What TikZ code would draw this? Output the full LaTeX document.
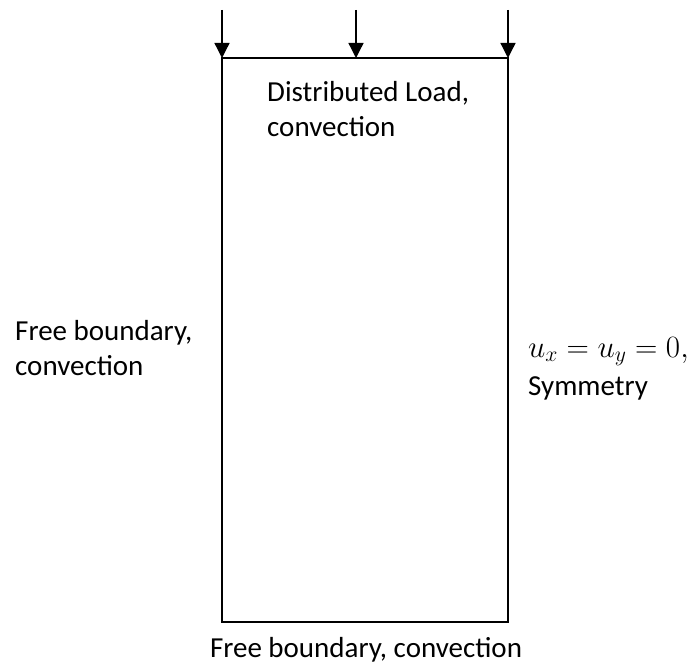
\RequirePackage{fix-cm}
\documentclass[tikz,border=0pt]{standalone}
\usepackage{fontspec}
\setmainfont{Carlito}
\usetikzlibrary{arrows.meta}

\tikzset{
  plate/.style={draw,line width=2.6pt,minimum width=286pt,minimum height=564pt,inner sep=0pt,outer sep=0pt},
  load/.style={line width=1.3pt,-{Triangle[width=15pt,length=15pt]}},
  label/.style={inner sep=0pt,align=left,font=\fontsize{29}{35}\selectfont}
}

\begin{document}
\begin{tikzpicture}[x=1pt,y=-1pt]
\useasboundingbox (0,0) rectangle (692,663);

\node[plate] (plate) at (365,340) {};

\coordinate (l1) at (222,10);
\coordinate (l2) at (356,10);
\coordinate (l3) at (508,10);
\draw[load] (l1) -- (l1 |- plate.north);
\draw[load] (l2) -- (l2 |- plate.north);
\draw[load] (l3) -- (l3 |- plate.north);

% base is the last line of each label
\node[label,anchor=base west] (top) at (267,136) {Distributed Load,\\convection};
\node[label,anchor=base west] (left) at (15,375) {Free boundary,\\convection};
\node[label,anchor=base west] (right) at (528,395) {{\fontsize{31}{35}\selectfont$u_x=u_y=0,$}\\[3pt]Symmetry};
\node[label,anchor=base] (bottom) at (366,657) {Free boundary, convection};
\end{tikzpicture}
\end{document}
